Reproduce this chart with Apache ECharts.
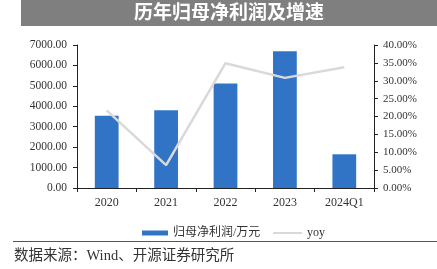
<!DOCTYPE html>
<html><head><meta charset="utf-8">
<script src="https://cdn.jsdelivr.net/npm/echarts@6/dist/echarts.min.js"></script>
<style>html,body{margin:0;padding:0;background:#fff}#c{width:437px;height:269px}</style>
</head><body><div id="c"></div>
<script>
const categories = ['2020','2021','2022','2023','2024Q1'];
const profit = [3540, 3800, 5120, 6690, 1650];
const yoy = [21.7, 6.4, 34.9, 30.8, 33.8];
const leftTicks = {min:0, max:7000, interval:1000};
const rightTicks = {min:0, max:40, interval:5};
const title = '历年归母净利润及增速';
const source = '数据来源：Wind、开源证券研究所';
const seriesNames = ['归母净利润/万元','yoy'];

const chart = echarts.init(document.getElementById('c'), null, {renderer:'canvas'});
const serif = '"Liberation Serif","Noto Sans CJK SC",serif';
chart.setOption({
  animation:false,
  graphic:[
    {type:'rect', shape:{x:21,y:0,width:416,height:26}, style:{fill:'#7f7f7f'}},
    {type:'text', x:229, y:12, style:{text:title, fill:'#fff', font:'bold 19px "Noto Sans CJK SC"', align:'center', verticalAlign:'middle'}},
    {type:'line', shape:{x1:13,y1:241.5,x2:437,y2:241.5}, style:{stroke:'#555',lineWidth:1}},
    {type:'text', x:14, y:256, style:{text:source, fill:'#333', font:'14.5px "Liberation Serif","Noto Sans CJK SC"', verticalAlign:'middle'}}
  ],
  grid:{left:77, right:63, top:45, bottom:81, containLabel:false},
  legend:[{
    top:222, left:137, itemWidth:26, itemHeight:5,
    textStyle:{fontFamily:serif, fontSize:12, color:'#333'},
    data:[{name:seriesNames[0], icon:'rect'}]
  },{
    top:222, left:268, itemWidth:29, itemHeight:2,
    textStyle:{fontFamily:serif, fontSize:12, color:'#333'},
    data:[{name:seriesNames[1], icon:'rect'}]
  }],
  xAxis:{
    type:'category', data:categories,
    axisLine:{lineStyle:{color:'#222'}},
    axisTick:{show:true, alignWithLabel:false, length:4, lineStyle:{color:'#222'}},
    axisLabel:{fontFamily:serif, fontSize:12, color:'#333', margin:9}
  },
  yAxis:[
    {type:'value', min:leftTicks.min, max:leftTicks.max, interval:leftTicks.interval,
     axisLine:{show:true, lineStyle:{color:'#222'}},
     axisTick:{show:true, length:4, lineStyle:{color:'#222'}},
     splitLine:{show:false},
     axisLabel:{fontFamily:serif, fontSize:11.5, color:'#333', margin:10, formatter:v=>v.toFixed(2)}},
    {type:'value', min:rightTicks.min, max:rightTicks.max, interval:rightTicks.interval, position:'right',
     axisLine:{show:true, lineStyle:{color:'#222'}},
     axisTick:{show:true, length:4, lineStyle:{color:'#222'}},
     splitLine:{show:false},
     axisLabel:{fontFamily:serif, fontSize:11, color:'#333', margin:9, formatter:v=>v.toFixed(2)+'%'}}
  ],
  series:[
    {name:seriesNames[0], type:'bar', data:profit, barWidth:'40%', yAxisIndex:0,
     itemStyle:{color:'#3174c6'}},
    {name:seriesNames[1], type:'line', data:yoy, yAxisIndex:1, symbol:'none',
     lineStyle:{color:'#d9d9d9', width:2.5}, itemStyle:{color:'#d9d9d9'}}
  ]
});
</script></body></html>
